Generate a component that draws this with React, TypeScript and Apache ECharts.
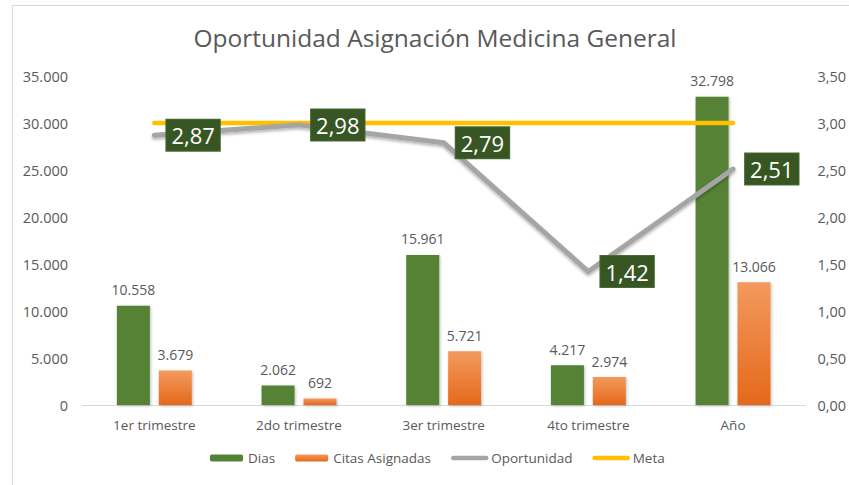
import React, { useEffect, useRef } from "react";
import * as echarts from "echarts";

const categories = ["1er trimestre", "2do trimestre", "3er trimestre", "4to trimestre", "Año"];
const dias = [10558, 2062, 15961, 4217, 32798];
const citas = [3679, 692, 5721, 2974, 13066];
const oportunidad = [2.87, 2.98, 2.79, 1.42, 2.51];
const meta = [3, 3, 3, 3, 3];

const FONT = "'Open Sans', sans-serif";
const GREY = "#595959";

const fmtThousands = (v: number) =>
  String(Math.round(v)).replace(/\B(?=(\d{3})+(?!\d))/g, ".");
const fmtDec = (v: number) => v.toFixed(2).replace(".", ",");

export default function App() {
  const ref = useRef<HTMLDivElement>(null);
  useEffect(() => {
    if (!ref.current) return;
    const chart = echarts.init(ref.current, undefined, { renderer: "svg" });
    chart.setOption({
      animation: false,
      backgroundColor: "#ffffff",
      textStyle: { fontFamily: FONT },
      graphic: [
        {
          type: "rect",
          shape: { x: 12.5, y: 5.5, width: 900, height: 600 },
          style: { fill: "none", stroke: "#d9d9d9", lineWidth: 1 },
          silent: true,
          z: -10,
        },
      ],
      title: {
        text: "Oportunidad Asignación Medicina General",
        left: 430,
        top: 20,
        textAlign: "center",
        textStyle: { fontFamily: FONT, fontSize: 24.5, fontWeight: "normal", color: GREY },
      },
      legend: {
        bottom: 15,
        left: 205,
        itemWidth: 33,
        itemHeight: 7,
        itemGap: 20,
        textStyle: { fontFamily: FONT, fontSize: 13.5, color: GREY },
        data: [
          { name: "Dias" },
          { name: "Citas Asignadas" },
          { name: "Oportunidad", itemStyle: { opacity: 0 }, lineStyle: { width: 4.5 } },
          { name: "Meta", itemStyle: { opacity: 0 }, lineStyle: { width: 4.5 } },
        ],
      },
      grid: { left: 82, right: 41, top: 76, bottom: 80, containLabel: false },
      xAxis: {
        type: "category",
        data: categories,
        axisLine: { lineStyle: { color: "#d9d9d9" } },
        axisTick: { show: false },
        axisLabel: { fontFamily: FONT, fontSize: 13.5, color: GREY, margin: 13 },
      },
      yAxis: [
        {
          type: "value",
          min: 0,
          max: 35000,
          interval: 5000,
          splitLine: { show: false },
          axisLine: { show: false },
          axisTick: { show: false },
          axisLabel: {
            fontFamily: FONT,
            fontSize: 14.5,
            color: GREY,
            margin: 14,
            formatter: (v: number) => fmtThousands(v),
          },
        },
        {
          type: "value",
          min: 0,
          max: 3.5,
          interval: 0.5,
          splitLine: { show: false },
          axisLine: { show: false },
          axisTick: { show: false },
          axisLabel: {
            fontFamily: FONT,
            fontSize: 14.5,
            color: GREY,
            margin: 12,
            formatter: (v: number) => fmtDec(v),
          },
        },
      ],
      series: [
        {
          name: "Dias",
          type: "bar",
          data: dias,
          barWidth: 33,
          barGap: "27%",
          itemStyle: {
            color: "#548235",
            shadowColor: "rgba(0,0,0,0.25)",
            shadowBlur: 3,
            shadowOffsetX: 1,
            shadowOffsetY: 1,
          },
          label: {
            show: true,
            position: "top",
            distance: 9,
            fontFamily: FONT,
            fontSize: 14,
            color: GREY,
            formatter: (p: any) => fmtThousands(p.value),
          },
        },
        {
          name: "Citas Asignadas",
          type: "bar",
          data: citas,
          barWidth: 33,
          itemStyle: {
            color: new echarts.graphic.LinearGradient(0, 0, 0, 1, [
              { offset: 0, color: "#F39A5E" },
              { offset: 1, color: "#E5681A" },
            ]),
            shadowColor: "rgba(0,0,0,0.25)",
            shadowBlur: 3,
            shadowOffsetX: 1,
            shadowOffsetY: 1,
          },
          label: {
            show: true,
            position: "top",
            distance: 9,
            fontFamily: FONT,
            fontSize: 14,
            color: GREY,
            formatter: (p: any) => fmtThousands(p.value),
          },
        },
        {
          name: "Meta",
          type: "line",
          yAxisIndex: 1,
          data: meta,
          symbol: "none",
          z: 3,
          lineStyle: {
            color: "#FFC000",
            width: 4.5,
            cap: "round",
          },
          itemStyle: { color: "#FFC000" },
        },
        {
          name: "Oportunidad",
          type: "line",
          yAxisIndex: 1,
          data: oportunidad,
          symbol: "circle",
          symbolSize: 0.1,
          showSymbol: true,
          z: 4,
          lineStyle: {
            color: "#A5A5A5",
            width: 5,
            cap: "round",
            join: "round",
            shadowColor: "rgba(0,0,0,0.3)",
            shadowBlur: 3,
            shadowOffsetY: 2,
          },
          itemStyle: { color: "#A5A5A5" },
          label: {
            show: true,
            position: "right",
            distance: 12,
            fontFamily: FONT,
            fontSize: 22,
            color: "#ffffff",
            backgroundColor: "#375623",
            borderColor: "#4a6b35",
            borderWidth: 1,
            padding: [5, 5, 4, 5],
            formatter: (p: any) => fmtDec(p.value),
          },
        },
      ],
    });
    return () => chart.dispose();
  }, []);
  return (
    <div
      ref={ref}
      style={{ position: "absolute", left: 0, top: 0, width: 849, height: 485 }}
    />
  );
}
